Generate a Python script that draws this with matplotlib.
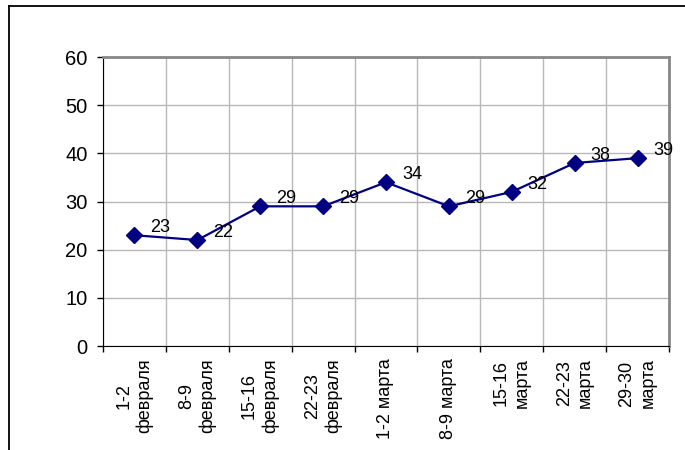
import matplotlib.pyplot as plt
from matplotlib.lines import Line2D

plt.rcParams['font.family'] = ['Liberation Sans', 'DejaVu Sans']

periods = ['1-2\nфевраля', '8-9\nфевраля', '15-16\nфевраля', '22-23\nфевраля',
           '1-2 марта', '8-9 марта', '15-16\nмарта', '22-23\nмарта', '29-30\nмарта']
values = [23, 22, 29, 29, 34, 29, 32, 38, 39]

fig = plt.figure(figsize=(6.85, 4.5), dpi=100)
ax = fig.add_axes([0.1504, 0.2311, 0.8262, 0.6422])

# outer chart frame (only top and left visible in the crop)
fig.add_artist(Line2D([0.0131, 0.0131], [0.0, 0.9867], transform=fig.transFigure,
                      color='black', linewidth=1.3))
fig.add_artist(Line2D([0.0131, 1.0], [0.9867, 0.9867], transform=fig.transFigure,
                      color='black', linewidth=1.3))

x = list(range(len(values)))
ax.plot(x, values, color='#000080', linewidth=1.6, marker='D', markersize=8)

for xi, v in zip(x, values):
    ax.annotate(str(v), (xi, v), xytext=(11.5, 5.5), textcoords='offset points',
                ha='left', va='center', fontsize=13)

ax.set_xlim(-0.5, len(values) - 0.5)
ax.set_ylim(0, 60)
ax.set_yticks(range(0, 61, 10))
ax.tick_params(axis='y', labelsize=14.5, length=4, width=1, pad=7, direction='out')

ax.set_xticks(x)
ax.set_xticklabels(periods, rotation=90, fontsize=13, linespacing=1.3)
for lbl in ax.get_xticklabels():
    lbl.set_multialignment('center')
ax.set_xticks([i - 0.5 for i in range(len(values) + 1)], minor=True)
ax.tick_params(axis='x', which='major', length=0, pad=9)
ax.tick_params(axis='x', which='minor', length=4, width=1, direction='out')

ax.set_axisbelow(True)
ax.grid(axis='y', which='major', color='#b8b8b8', linewidth=1)
ax.grid(axis='x', which='minor', color='#b8b8b8', linewidth=1)

ax.spines['left'].set_color('black')
ax.spines['bottom'].set_color('black')
ax.spines['top'].set_color('#888888')
ax.spines['right'].set_color('#888888')
ax.spines['top'].set_linewidth(2)
ax.spines['right'].set_linewidth(2)

fig.savefig('out.png', dpi=100)
